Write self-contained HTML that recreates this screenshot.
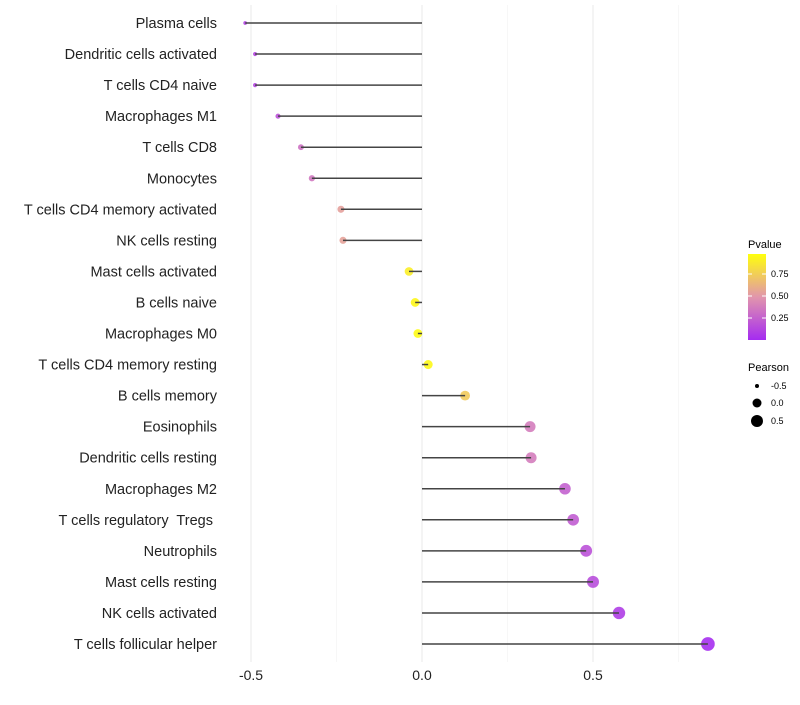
<!DOCTYPE html>
<html><head><meta charset="utf-8"><style>
body{margin:0;background:#fff;font-family:"Liberation Sans",sans-serif;}
svg text{font-family:"Liberation Sans",sans-serif;white-space:pre;}
</style></head><body>
<svg id="chart" width="800" height="700" xmlns="http://www.w3.org/2000/svg">
<defs><linearGradient id="pg" x1="0" y1="1" x2="0" y2="0">
<stop offset="0" stop-color="#a020f0"/><stop offset="0.5" stop-color="#e090a8"/><stop offset="1" stop-color="#ffff00"/></linearGradient></defs>
<g id="grid"></g>
<g id="points"></g>
<g id="marks"></g>
<g id="ylabels"></g>
<g id="xlabels"></g>
<g>
<text x="748" y="248" font-size="11">Pvalue</text>
<rect x="748" y="254" width="18" height="86" fill="url(#pg)" opacity="0.95"/>
<line x1="748" x2="752" y1="274" y2="274" stroke="#fff"/><line x1="762" x2="766" y1="274" y2="274" stroke="#fff"/>
<line x1="748" x2="752" y1="296" y2="296" stroke="#fff"/><line x1="762" x2="766" y1="296" y2="296" stroke="#fff"/>
<line x1="748" x2="752" y1="318" y2="318" stroke="#fff"/><line x1="762" x2="766" y1="318" y2="318" stroke="#fff"/>
<text x="771" y="277" font-size="9">0.75</text>
<text x="771" y="299" font-size="9">0.50</text>
<text x="771" y="321" font-size="9">0.25</text>
</g>
<g>
<text x="748" y="371" font-size="11">Pearson</text>
<circle cx="757" cy="386" r="2" fill="#000"/>
<circle cx="757" cy="403" r="4.5" fill="#000"/>
<circle cx="757" cy="421" r="6" fill="#000"/>
<text x="771" y="389" font-size="9">-0.5</text>
<text x="771" y="406" font-size="9">0.0</text>
<text x="771" y="424" font-size="9">0.5</text>
</g>
</svg>
<script>
const cells=["Plasma cells","Dendritic cells activated","T cells CD4 naive","Macrophages M1","T cells CD8","Monocytes","T cells CD4 memory activated","NK cells resting","Mast cells activated","B cells naive","Macrophages M0","T cells CD4 memory resting","B cells memory","Eosinophils","Dendritic cells resting","Macrophages M2","T cells regulatory  Tregs ","Neutrophils","Mast cells resting","NK cells activated","T cells follicular helper"];
const pearson=[-0.517,-0.488,-0.488,-0.421,-0.354,-0.322,-0.237,-0.231,-0.038,-0.02,-0.012,0.018,0.126,0.316,0.319,0.418,0.442,0.48,0.5,0.576,0.836];
const pvalue=[0.1,0.12,0.12,0.18,0.33,0.36,0.55,0.56,0.92,0.96,0.98,0.97,0.75,0.38,0.38,0.25,0.23,0.18,0.16,0.08,0.01];
const xTicks=[-0.5,0,0.5];
const xTickLabels=["-0.5","0.0","0.5"];
const minorTicks=[-0.25,0.25,0.75];
const NS="http://www.w3.org/2000/svg";
const x=v=>422+v*342;
const y=i=>23+i*31.05;
function mk(tag,attrs,parent){const e=document.createElementNS(NS,tag);for(const k in attrs)e.setAttribute(k,attrs[k]);document.getElementById(parent).appendChild(e);return e;}
function col(p){const s=[[160,32,240],[224,144,168],[255,255,0]];let a,b,t;if(p<0.5){a=s[0];b=s[1];t=p/0.5;}else{a=s[1];b=s[2];t=(p-0.5)/0.5;}
return "rgb("+a.map((c,i)=>Math.round(c+(b[i]-c)*t)).join(",")+")";}
minorTicks.forEach(t=>{const l=mk("line",{x1:x(t),x2:x(t),y1:5,y2:662,stroke:"#f2f2f2","stroke-width":0.6},"grid");

});
xTicks.forEach((t,i)=>{const l=mk("line",{x1:x(t),x2:x(t),y1:5,y2:662,stroke:"#ebebeb","stroke-width":1.1},"grid");


const tx=mk("text",{x:x(t),y:680,"font-size":14,"text-anchor":"middle",fill:"#222"},"xlabels");tx.textContent=xTickLabels[i];

});
cells.forEach((c,i)=>{
const t=mk("text",{x:217,y:y(i)+5,"font-size":14.5,"text-anchor":"end",fill:"#222"},"ylabels");t.textContent=c;


const p=pearson[i];
const r=Math.sqrt(Math.max(1,20+32*p));
const d=mk("circle",{cx:x(p),cy:y(i),r:r,fill:col(pvalue[i]),opacity:0.85},"points");


const l=mk("line",{x1:x(0),x2:x(p),y1:y(i),y2:y(i),stroke:"#444","stroke-width":1.5},"marks");


});
</script>
</body></html>
